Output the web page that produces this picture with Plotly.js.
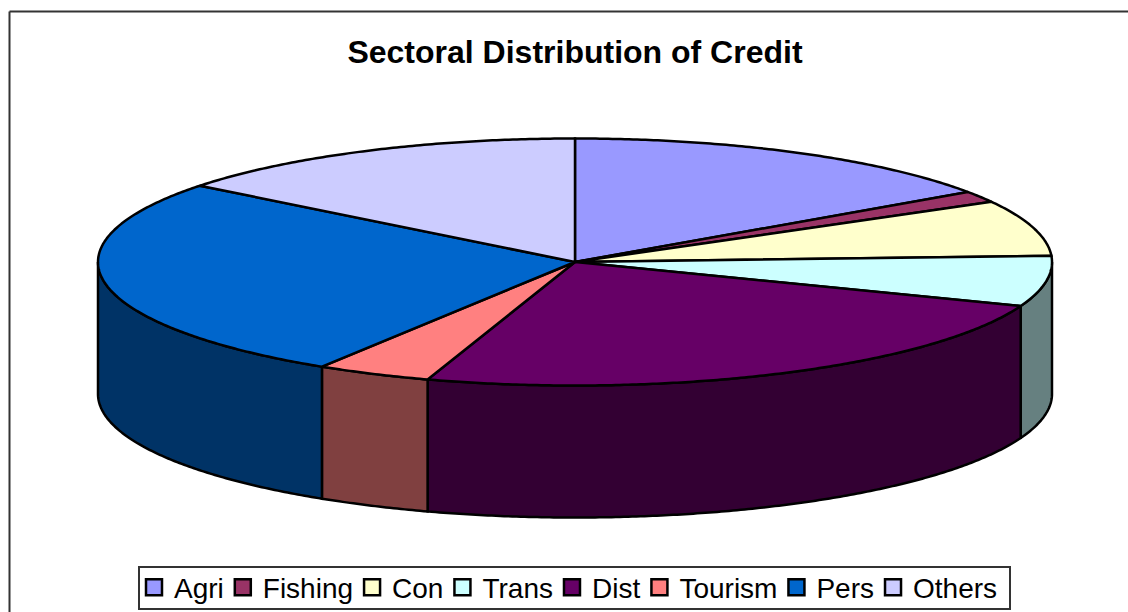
<!DOCTYPE html>
<html>
<head>
<meta charset="utf-8">
<script src="https://cdn.plot.ly/plotly-3.0.1.min.js"></script>
<style>html,body{margin:0;padding:0;background:#fff}#chart{width:1128px;height:612px}</style>
</head>
<body>
<div id="chart"></div>
<script>
const categories = ["Agri","Fishing","Con","Trans","Dist","Tourism","Pers","Others"];
const shares = [15.4,1.5,7.3,6.6,24.2,3.9,26.7,14.4];
const topColors = ["#9999FF","#993366","#FFFFCC","#CCFFFF","#660066","#FF8080","#0066CC","#CCCCFF"];
const wallColors = ["#4D4D80","#4D1A33","#808066","#668080","#330033","#804040","#003366","#666680"];

const W = 1128, H = 612;
const cx = 575, cy = 262, rx = 477, ry = 123.5, depth = 132;

function pt(deg, dy) {
  const r = deg * Math.PI / 180;
  return [cx + rx * Math.sin(r), cy - ry * Math.cos(r) + (dy || 0)];
}
function arc(a, b, dy) {
  const n = Math.max(2, Math.ceil(Math.abs(b - a) * 2));
  const out = [];
  for (let i = 0; i <= n; i++) out.push(pt(a + (b - a) * i / n, dy));
  return out;
}
const total = shares.reduce((s, v) => s + v, 0);
let running = 0;
const spans = shares.map(v => {
  const a = running / total * 360;
  running += v;
  return [a, running / total * 360];
});
function poly(points, color, name) {
  return {
    type: "scatter", mode: "lines", fill: "toself", fillcolor: color,
    x: points.map(p => p[0]), y: points.map(p => p[1]),
    line: {color: "#000", width: 2.5, simplify: false},
    hoverinfo: "skip", showlegend: false, name: name
  };
}
const walls = [], tops = [], keys = [];
spans.forEach((s, i) => {
  const a = Math.max(s[0], 90), b = Math.min(s[1], 270);
  if (b > a) {
    const pts = arc(a, b, 0).concat(arc(b, a, depth));
    pts.push(pts[0]);
    walls.push(poly(pts, wallColors[i], categories[i] + " side"));
  }
  const pts = [[cx, cy]].concat(arc(s[0], s[1], 0));
  pts.push([cx, cy]);
  tops.push(poly(pts, topColors[i], categories[i]));
  keys.push({
    type: "scatter", mode: "markers", x: [null], y: [null], name: categories[i],
    marker: {symbol: "square", size: 17, color: topColors[i], line: {color: "#000", width: 2.5}},
    hoverinfo: "skip", showlegend: true
  });
});
const frame = {type: "line", xref: "paper", yref: "paper", line: {color: "#333", width: 2}};
const layout = {
  width: W, height: H,
  margin: {l: 0, r: 0, t: 0, b: 0, autoexpand: false},
  paper_bgcolor: "#fff", plot_bgcolor: "#fff",
  font: {family: "Liberation Sans, Arial, sans-serif", color: "#000"},
  title: {
    text: "<b>Sectoral Distribution of Credit</b>",
    font: {family: "Liberation Sans, Arial, sans-serif", size: 32, color: "#000"},
    x: 575 / W, xanchor: "center", xref: "paper",
    y: 1 - 52 / H, yanchor: "middle", yref: "paper"
  },
  xaxis: {range: [0, W], visible: false, fixedrange: true},
  yaxis: {range: [H, 0], visible: false, fixedrange: true},
  showlegend: true,
  legend: {
    orientation: "h", x: 140 / W, xanchor: "left", y: 1 - 587.5 / H, yanchor: "middle",
    font: {family: "Liberation Sans, Arial, sans-serif", size: 28, color: "#000"},
    borderwidth: 0, bgcolor: "rgba(0,0,0,0)",
    indentation: -6, traceorder: "normal"
  },
  shapes: [
    Object.assign({}, frame, {x0: 9.5 / W, x1: 1, y0: 1 - 11.5 / H, y1: 1 - 11.5 / H}),
    Object.assign({}, frame, {x0: 9.5 / W, x1: 9.5 / W, y0: 1 - 11.5 / H, y1: 0}),
    {type: "rect", xref: "paper", yref: "paper", x0: 139 / W, x1: 1010 / W, y0: 1 - 567 / H, y1: 1 - 609 / H,
     line: {color: "#333", width: 2}, fillcolor: "#fff", layer: "below"}
  ]
};
Plotly.newPlot("chart", walls.concat(tops, keys), layout, {displayModeBar: false, staticPlot: true});
</script>
</body>
</html>
